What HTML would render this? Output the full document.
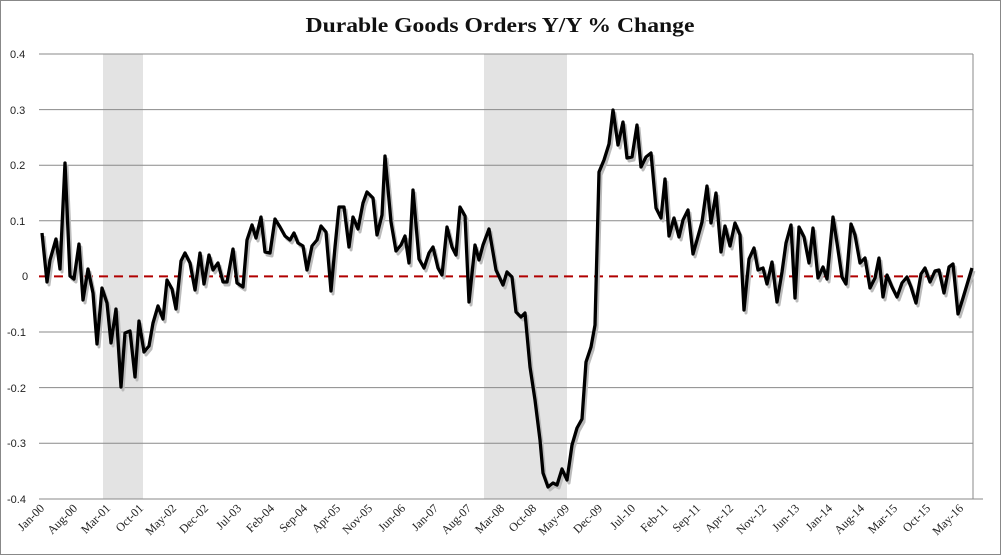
<!DOCTYPE html>
<html><head><meta charset="utf-8"><style>
html,body{margin:0;padding:0;background:#fff}
svg{display:block}
</style></head><body>
<svg width="1001" height="555" xmlns="http://www.w3.org/2000/svg">
<rect x="0.5" y="0.5" width="1000" height="554" fill="#fff" stroke="#888"/>
<text x="500" y="32" text-anchor="middle" font-family="Liberation Serif, serif" font-weight="bold" font-size="21" textLength="389" lengthAdjust="spacingAndGlyphs" fill="#111">Durable Goods Orders Y/Y % Change</text>
<rect x="103" y="54" width="40" height="445" fill="#e3e3e3"/>
<rect x="484" y="54" width="83" height="445" fill="#e3e3e3"/>
<g stroke="#8a8a8a" stroke-width="1">
<line x1="39" y1="54" x2="973" y2="54"/><line x1="39" y1="109.6" x2="973" y2="109.6"/>
<line x1="39" y1="165.2" x2="973" y2="165.2"/><line x1="39" y1="220.8" x2="973" y2="220.8"/>
<line x1="39" y1="332" x2="973" y2="332"/><line x1="39" y1="387.6" x2="973" y2="387.6"/>
<line x1="39" y1="443.2" x2="973" y2="443.2"/><line x1="39" y1="499" x2="983" y2="499"/>
<line x1="973" y1="54" x2="973" y2="499"/>
</g>
<line x1="39" y1="276.4" x2="973" y2="276.4" stroke="#b00000" stroke-width="2" stroke-dasharray="9,6"/>
<g font-family="Liberation Sans, sans-serif" font-size="11" fill="#222">
<text x="10" y="58">0.4</text><text x="10" y="114">0.3</text><text x="10" y="169">0.2</text><text x="10" y="225">0.1</text>
<text x="22" y="280">0</text><text x="7" y="336">-0.1</text><text x="7" y="392">-0.2</text><text x="7" y="447">-0.3</text><text x="7" y="503">-0.4</text>
</g>
<g fill="none" stroke-linejoin="round">
<polyline stroke="#bbb" stroke-width="3" transform="translate(2,3)" points="42,233 47,282 50,260 56,239 60,269 65,163 70,276 74,279 79,244 83,300 88,269 93,293 97,344 102,288 107,303 111,343 116,309 121,387 125,333 130,331 135,377 139,321 144,352 149,346 153,323 158,306 163,319 167,280 172,289 176,309 181,261 185,253 190,263 195,290 200,253 204,284 209,255 213,270 218,263 223,282 227,282 233,249 237,283 243,287 247,240 252,225 256,238 261,217 265,252 270,253 275,219 280,227 285,236 290,240 294,233 298,243 303,246 307,270 312,246 317,240 321,226 326,232 331,291 335,247 339,207 344,207 349,247 353,217 358,229 363,203 367,192 373,198 377,235 382,215 385,156 391,222 396,251 401,245 405,236 409,263 413,190 419,259 424,268 429,253 433,247 438,268 442,275 447,227 452,247 456,255 460,207 465,216 469,302 475,245 479,260 483,245 489,229 496,270 503,285 507,272 512,277 516,312 521,317 525,313 530,367 535,400 540,440 543,473 548,487 553,483 557,485 562,469 567,480 572,445 577,428 582,419 586,362 591,347 595,325 599,172 604,160 609,144 613,110 618,145 623,122 627,158 632,157 637,125 641,167 646,157 651,153 656,208 661,218 665,179 669,236 674,218 679,237 683,220 688,210 693,254 697,240 702,222 707,186 711,223 716,193 721,252 725,226 730,246 735,223 740,235 744,310 749,259 754,248 758,270 763,268 767,284 772,262 777,302 782,272 786,243 791,225 795,298 799,227 804,237 809,263 813,228 818,278 823,267 827,279 833,217 837,243 842,277 846,284 851,224 855,235 860,263 865,258 870,288 875,278 879,258 883,297 887,275 892,287 897,297 902,283 907,277 911,287 916,303 921,274 925,268 930,282 935,271 939,270 944,293 949,267 953,264 958,314 963,298 972,268"/>
<polyline stroke="#000" stroke-width="3.3" points="42,233 47,282 50,260 56,239 60,269 65,163 70,276 74,279 79,244 83,300 88,269 93,293 97,344 102,288 107,303 111,343 116,309 121,387 125,333 130,331 135,377 139,321 144,352 149,346 153,323 158,306 163,319 167,280 172,289 176,309 181,261 185,253 190,263 195,290 200,253 204,284 209,255 213,270 218,263 223,282 227,282 233,249 237,283 243,287 247,240 252,225 256,238 261,217 265,252 270,253 275,219 280,227 285,236 290,240 294,233 298,243 303,246 307,270 312,246 317,240 321,226 326,232 331,291 335,247 339,207 344,207 349,247 353,217 358,229 363,203 367,192 373,198 377,235 382,215 385,156 391,222 396,251 401,245 405,236 409,263 413,190 419,259 424,268 429,253 433,247 438,268 442,275 447,227 452,247 456,255 460,207 465,216 469,302 475,245 479,260 483,245 489,229 496,270 503,285 507,272 512,277 516,312 521,317 525,313 530,367 535,400 540,440 543,473 548,487 553,483 557,485 562,469 567,480 572,445 577,428 582,419 586,362 591,347 595,325 599,172 604,160 609,144 613,110 618,145 623,122 627,158 632,157 637,125 641,167 646,157 651,153 656,208 661,218 665,179 669,236 674,218 679,237 683,220 688,210 693,254 697,240 702,222 707,186 711,223 716,193 721,252 725,226 730,246 735,223 740,235 744,310 749,259 754,248 758,270 763,268 767,284 772,262 777,302 782,272 786,243 791,225 795,298 799,227 804,237 809,263 813,228 818,278 823,267 827,279 833,217 837,243 842,277 846,284 851,224 855,235 860,263 865,258 870,288 875,278 879,258 883,297 887,275 892,287 897,297 902,283 907,277 911,287 916,303 921,274 925,268 930,282 935,271 939,270 944,293 949,267 953,264 958,314 963,298 972,268"/>
</g>
<g font-family="Liberation Serif, serif" font-size="12" fill="#222" text-anchor="end">
<text transform="translate(45,509) rotate(-45)">Jan-00</text>
<text transform="translate(78,509) rotate(-45)">Aug-00</text>
<text transform="translate(111,509) rotate(-45)">Mar-01</text>
<text transform="translate(144,509) rotate(-45)">Oct-01</text>
<text transform="translate(177,509) rotate(-45)">May-02</text>
<text transform="translate(209,509) rotate(-45)">Dec-02</text>
<text transform="translate(242,509) rotate(-45)">Jul-03</text>
<text transform="translate(275,509) rotate(-45)">Feb-04</text>
<text transform="translate(308,509) rotate(-45)">Sep-04</text>
<text transform="translate(341,509) rotate(-45)">Apr-05</text>
<text transform="translate(373,509) rotate(-45)">Nov-05</text>
<text transform="translate(406,509) rotate(-45)">Jun-06</text>
<text transform="translate(439,509) rotate(-45)">Jan-07</text>
<text transform="translate(472,509) rotate(-45)">Aug-07</text>
<text transform="translate(505,509) rotate(-45)">Mar-08</text>
<text transform="translate(537,509) rotate(-45)">Oct-08</text>
<text transform="translate(570,509) rotate(-45)">May-09</text>
<text transform="translate(603,509) rotate(-45)">Dec-09</text>
<text transform="translate(636,509) rotate(-45)">Jul-10</text>
<text transform="translate(669,509) rotate(-45)">Feb-11</text>
<text transform="translate(701,509) rotate(-45)">Sep-11</text>
<text transform="translate(734,509) rotate(-45)">Apr-12</text>
<text transform="translate(767,509) rotate(-45)">Nov-12</text>
<text transform="translate(800,509) rotate(-45)">Jun-13</text>
<text transform="translate(833,509) rotate(-45)">Jan-14</text>
<text transform="translate(865,509) rotate(-45)">Aug-14</text>
<text transform="translate(898,509) rotate(-45)">Mar-15</text>
<text transform="translate(931,509) rotate(-45)">Oct-15</text>
<text transform="translate(964,509) rotate(-45)">May-16</text>
</g>
</svg>
</body></html>
